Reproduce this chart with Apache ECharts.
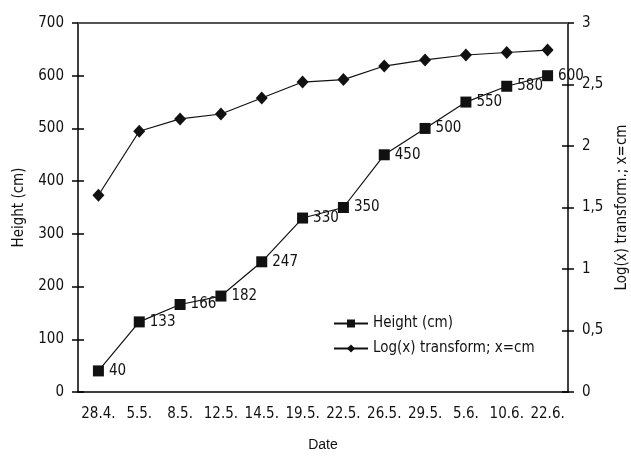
<!DOCTYPE html>
<html><head><meta charset="utf-8">
<script src="https://cdn.jsdelivr.net/npm/echarts@6/dist/echarts.min.js"></script>
<style>html,body{margin:0;padding:0;background:#fff}#c{width:631px;height:459px}</style>
</head><body><div id="c"></div>
<script>
const categories = ['28.4.','5.5.','8.5.','12.5.','14.5.','19.5.','22.5.','26.5.','29.5.','5.6.','10.6.','22.6.'];
const heightValues = [40,133,166,182,247,330,350,450,500,550,580,600];
const logValues = [1.60,2.12,2.22,2.26,2.39,2.52,2.54,2.65,2.70,2.74,2.76,2.78];
const seriesNames = ['Height (cm)','Log(x) transform; x=cm'];

const F = '"DejaVu Sans Condensed","Liberation Sans Narrow","Liberation Sans",sans-serif';
const lineStyle = {color:'#000', width:1.5};
const chart = echarts.init(document.getElementById('c'));
const commonY = (pos, min, max, interval, inside, show, fmt) => ({
  type:'value', position:pos, min, max, interval,
  axisLine:{show:show, lineStyle},
  axisTick:{show:true, inside:inside, length:6, lineStyle},
  axisLabel:{show:show, color:'#111', fontFamily:F, fontSize:15, margin:14, formatter:fmt},
  splitLine:{show:false}
});
const fmtComma = v => String(v).replace('.', ',');
chart.setOption({
  animation:false,
  grid:{left:78, right:63, top:23, bottom:67, outerBoundsMode:'none', containLabel:false},
  legend:{
    orient:'vertical', left:328, top:311, itemGap:10, itemWidth:34, itemHeight:10,
    textStyle:{fontFamily:F, fontSize:15, color:'#111'},
    data:seriesNames
  },
  xAxis:[
    {type:'category', data:categories, boundaryGap:true, name:'Date', nameLocation:'middle', nameGap:46,
     nameTextStyle:{fontFamily:'"Liberation Sans",sans-serif', fontSize:14, color:'#111'},
     axisLine:{lineStyle}, axisTick:{length:6, lineStyle, alignWithLabel:false},
     axisLabel:{color:'#111', fontFamily:F, fontSize:15, margin:15, interval:0}},
    {type:'category', data:categories, position:'bottom', boundaryGap:true,
     axisLine:{show:false}, axisTick:{inside:true, length:6, lineStyle}, axisLabel:{show:false}}
  ],
  yAxis:[
    Object.assign(commonY('left',0,700,100,false,true), {name:'Height (cm)', nameLocation:'middle', nameGap:51,
      nameTextStyle:{fontFamily:F, fontSize:15, color:'#111'}}),
    Object.assign(commonY('right',0,3,0.5,false,true,fmtComma), {name:'Log(x) transform.; x=cm', nameLocation:'middle', nameGap:45,
      nameRotate:90, nameTextStyle:{fontFamily:F, fontSize:15, color:'#111'}}),
    commonY('left',0,700,100,true,false),
    commonY('right',0,3,0.5,true,false)
  ],
  series:[
    {name:seriesNames[0], type:'line', data:heightValues, yAxisIndex:0,
     symbol:'rect', symbolSize:11, itemStyle:{color:'#111'}, lineStyle:{color:'#111', width:1.2},
     label:{show:true, position:'right', distance:5, fontFamily:F, fontSize:15, color:'#111'},
     markLine:{silent:true, symbol:'none', label:{show:false}, lineStyle:{color:'#555', width:2, type:'solid'},
       data:[{yAxis:700}]}},
    {name:seriesNames[1], type:'line', data:logValues, yAxisIndex:1,
     symbol:'diamond', symbolSize:[12,13], itemStyle:{color:'#111'}, lineStyle:{color:'#111', width:1.2}}
  ]
});
</script></body></html>
